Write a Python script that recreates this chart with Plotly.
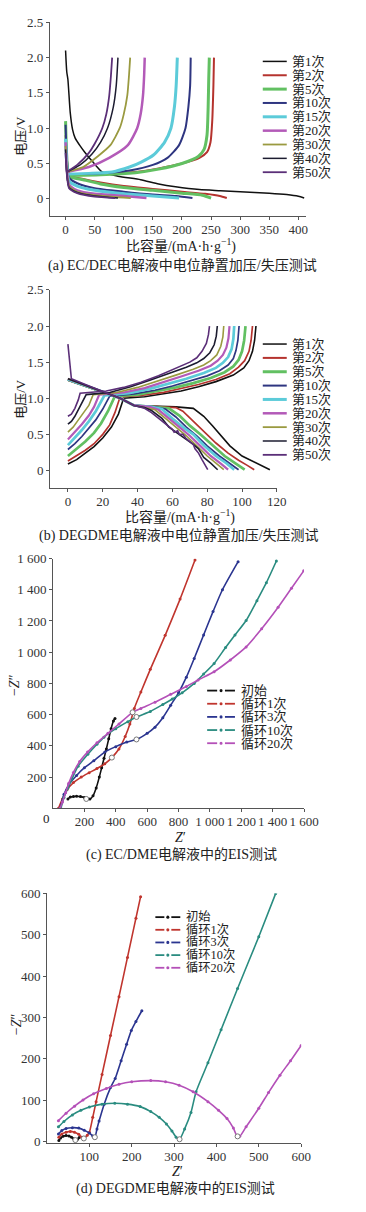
import plotly.graph_objects as go

W, H = 366, 1212

# ---------------- Panel (a) data: EC/DEC charge/discharge ----------------
A_NAMES = ["第1次", "第2次", "第5次", "第10次", "第15次", "第20次", "第30次", "第40次", "第50次"]
A_DIS_CAP = [
    [0, 2, 4, 8, 12, 16.5, 25, 33, 47, 63, 90, 129, 160, 189, 230, 266, 300, 350, 380, 400, 410],
    [0, 3, 8, 30, 60, 100, 150, 200, 240, 265, 277],
    [0, 2, 6, 30, 60, 100, 150, 200, 235, 250],
    [0, 2, 6, 20, 50, 100, 150, 190, 218],
    [0, 2, 6, 20, 50, 100, 150, 195],
    [0, 2, 6, 20, 50, 100, 139],
    [0, 2, 6, 20, 50, 112],
    [0, 2, 6, 20, 50, 90],
    [0, 2, 6, 20, 50, 85],
]
A_DIS_V = [
    [2.1, 1.8, 1.69, 1.22, 0.98, 0.86, 0.75, 0.66, 0.52, 0.38, 0.32, 0.27, 0.21, 0.17, 0.13, 0.115, 0.1, 0.08, 0.06, 0.035, 0.01],
    [0.9, 0.5, 0.33, 0.28, 0.23, 0.18, 0.14, 0.1, 0.07, 0.04, 0.01],
    [1.1, 0.6, 0.32, 0.27, 0.21, 0.16, 0.12, 0.08, 0.05, 0.01],
    [1.05, 0.6, 0.3, 0.22, 0.15, 0.1, 0.06, 0.04, 0.01],
    [0.85, 0.5, 0.25, 0.18, 0.12, 0.07, 0.04, 0.01],
    [0.8, 0.45, 0.2, 0.12, 0.07, 0.04, 0.01],
    [0.75, 0.4, 0.18, 0.1, 0.05, 0.01],
    [0.7, 0.38, 0.16, 0.09, 0.04, 0.01],
    [0.65, 0.36, 0.15, 0.08, 0.03, 0.01],
]
A_CH_CAP = [
    [],
    [2, 60, 120, 160, 200, 230, 243, 249, 252, 254, 255],
    [2, 60, 120, 160, 200, 228, 238, 243, 245, 246, 247],
    [2, 60, 110, 150, 175, 195, 206, 211, 214, 215],
    [2, 40, 80, 110, 130, 151, 170, 181, 187, 190, 192],
    [2, 40, 75, 107, 123, 129, 133, 135, 136],
    [2, 30, 55, 77, 93, 100, 106, 109, 111],
    [2, 25, 45, 60, 72, 82, 87, 90],
    [2, 20, 40, 50, 63, 70, 75, 78, 80],
]
A_CH_V = [
    [],
    [0.34, 0.35, 0.38, 0.43, 0.5, 0.58, 0.66, 0.8, 1.1, 1.6, 2.0],
    [0.33, 0.34, 0.37, 0.42, 0.5, 0.6, 0.7, 0.9, 1.3, 1.7, 2.0],
    [0.35, 0.36, 0.4, 0.48, 0.58, 0.76, 1.0, 1.3, 1.6, 2.0],
    [0.35, 0.36, 0.38, 0.45, 0.52, 0.62, 0.8, 1.0, 1.3, 1.6, 2.0],
    [0.38, 0.45, 0.58, 0.76, 1.0, 1.2, 1.46, 1.75, 2.0],
    [0.38, 0.45, 0.6, 0.76, 1.0, 1.2, 1.46, 1.75, 2.0],
    [0.38, 0.48, 0.63, 0.8, 1.0, 1.3, 1.6, 2.0],
    [0.38, 0.48, 0.65, 0.78, 1.0, 1.2, 1.46, 1.75, 2.0],
]

# ---------------- Panel (b) data: DEGDME charge/discharge ----------------
B_DIS_CAP = [
    [0, 10, 20, 30, 38, 50, 62, 72, 78, 83, 88, 93, 100, 106, 112, 116],
    [0, 10, 20, 30, 38, 50, 62, 66, 72, 78, 85, 92, 98, 103, 107],
    [0, 10, 20, 30, 38, 50, 58, 64, 70, 76, 83, 90, 96, 101.5],
    [0, 10, 20, 30, 38, 50, 56, 62, 68, 74, 80, 87, 93, 98],
    [0, 10, 20, 30, 38, 48, 54, 60, 66, 72, 78, 85, 91, 95.5],
    [0, 10, 20, 30, 38, 47, 52, 58, 64, 70, 76, 82, 88, 92],
    [0, 10, 20, 30, 38, 45, 50, 56, 62, 68, 74, 80, 85, 89.5],
    [0, 10, 20, 30, 38, 44, 48, 54, 58, 61, 63, 66, 72, 75, 78, 82, 86],
    [0, 1, 2, 10, 20, 30, 38, 44, 48, 52, 55, 57, 58, 60, 61, 63, 64, 66, 68, 70, 72, 73, 75, 77, 80.3],
]
B_DIS_V = [
    [1.25, 1.17, 1.09, 1.0, 0.9, 0.89, 0.88, 0.86, 0.75, 0.62, 0.48, 0.34, 0.2, 0.13, 0.06, 0.01],
    [1.25, 1.17, 1.09, 1.0, 0.9, 0.88, 0.87, 0.82, 0.68, 0.54, 0.38, 0.24, 0.14, 0.07, 0.01],
    [1.26, 1.17, 1.09, 1.0, 0.9, 0.88, 0.86, 0.76, 0.62, 0.5, 0.35, 0.2, 0.1, 0.01],
    [1.26, 1.18, 1.09, 1.0, 0.9, 0.88, 0.85, 0.74, 0.6, 0.48, 0.34, 0.2, 0.1, 0.01],
    [1.26, 1.18, 1.09, 1.0, 0.9, 0.88, 0.85, 0.72, 0.6, 0.5, 0.35, 0.2, 0.1, 0.01],
    [1.27, 1.18, 1.1, 1.0, 0.9, 0.88, 0.84, 0.72, 0.6, 0.48, 0.34, 0.2, 0.09, 0.01],
    [1.27, 1.18, 1.1, 1.0, 0.9, 0.87, 0.84, 0.72, 0.6, 0.48, 0.34, 0.2, 0.1, 0.01],
    [1.27, 1.18, 1.1, 1.0, 0.9, 0.87, 0.83, 0.72, 0.6, 0.55, 0.52, 0.46, 0.36, 0.3, 0.18, 0.1, 0.01],
    [1.75, 1.45, 1.27, 1.19, 1.1, 1.0, 0.9, 0.86, 0.8, 0.72, 0.66, 0.62, 0.6, 0.57, 0.53, 0.55, 0.5, 0.5, 0.44, 0.4, 0.36, 0.3, 0.24, 0.15, 0.01],
]
B_CH_CAP = [
    [0, 5, 10, 15, 20, 25, 29, 32, 44, 55, 65, 75, 85, 95, 101, 104, 106, 107.2, 108],
    [0, 5, 10, 15, 20, 24, 27, 30, 42, 55, 65, 75, 85, 93, 98, 101.5, 104, 105.2, 106],
    [0, 5, 10, 15, 19, 23, 27, 40, 52, 62, 72, 82, 90, 95, 98, 100, 101.2, 102],
    [0, 4, 8, 12, 16, 20, 24, 38, 50, 60, 70, 80, 87, 92, 95, 96.5, 97.6, 98.3],
    [0, 4, 8, 12, 16, 21, 35, 47, 58, 68, 78, 85, 89, 92, 94, 95, 95.5],
    [0, 4, 8, 12, 15, 18, 32, 44, 55, 65, 75, 82, 86, 89, 91, 92.2, 92.8],
    [0, 3, 6, 9, 12, 14.5, 28, 40, 51, 62, 72, 78, 82, 85.5, 87.8, 89, 89.5],
    [0, 2, 4, 6, 8, 10.5, 24, 36, 47, 58, 68, 74, 78, 81.5, 84, 85.2, 85.8],
    [0, 2, 4, 6, 7, 12, 22, 32, 42, 52, 62, 70, 74, 77, 79.5, 80.7, 81.3],
]
B_CH_V = [
    [0.09, 0.15, 0.24, 0.33, 0.45, 0.6, 0.78, 1.0, 1.02, 1.06, 1.1, 1.16, 1.23, 1.32, 1.42, 1.52, 1.65, 1.8, 2.0],
    [0.13, 0.2, 0.28, 0.37, 0.5, 0.63, 0.8, 1.02, 1.04, 1.08, 1.13, 1.19, 1.26, 1.34, 1.43, 1.52, 1.65, 1.8, 2.0],
    [0.2, 0.3, 0.4, 0.52, 0.65, 0.82, 1.03, 1.05, 1.1, 1.15, 1.21, 1.28, 1.36, 1.44, 1.53, 1.65, 1.8, 2.0],
    [0.29, 0.37, 0.47, 0.58, 0.7, 0.85, 1.03, 1.06, 1.11, 1.17, 1.24, 1.31, 1.38, 1.46, 1.55, 1.66, 1.8, 2.0],
    [0.35, 0.45, 0.56, 0.68, 0.82, 1.04, 1.07, 1.13, 1.2, 1.27, 1.35, 1.42, 1.49, 1.57, 1.68, 1.82, 2.0],
    [0.43, 0.53, 0.64, 0.76, 0.88, 1.05, 1.08, 1.14, 1.22, 1.3, 1.38, 1.45, 1.52, 1.6, 1.7, 1.83, 2.0],
    [0.53, 0.6, 0.7, 0.8, 0.9, 1.05, 1.08, 1.15, 1.23, 1.32, 1.4, 1.46, 1.52, 1.6, 1.72, 1.85, 2.0],
    [0.64, 0.68, 0.75, 0.84, 0.93, 1.05, 1.08, 1.16, 1.25, 1.34, 1.43, 1.49, 1.55, 1.63, 1.74, 1.86, 2.0],
    [0.75, 0.78, 0.86, 0.98, 1.07, 1.08, 1.1, 1.15, 1.22, 1.31, 1.41, 1.5, 1.56, 1.65, 1.76, 1.88, 2.0],
]
CYC_COLORS = ["#111111", "#b5332e", "#62c062", "#2e3580", "#5ccbd9", "#b35ab8", "#9a9a40", "#1c1c30", "#5b2f78"]
CYC_WIDTHS = [1.5, 2, 3, 2, 3, 2.5, 1.8, 1.5, 1.8]

# ---------------- Panel (c) data: EC/DME EIS ----------------
EIS_NAMES = ["初始", "循环1次", "循环3次", "循环10次", "循环20次"]
EIS_COLORS = ["#111111", "#c0352e", "#2b3590", "#2a8c80", "#b450b8"]
C_ZRE = [
    [95, 110, 130, 150, 175, 200, 215, 235, 255, 275, 295, 310, 325, 340, 355, 370, 385, 395],
    [35, 60, 90, 130, 180, 230, 280, 330, 375, 420, 460, 490, 518, 560, 620, 715, 810, 905],
    [45, 70, 100, 150, 200, 260, 330, 400, 470, 532, 600, 650, 700, 750, 800, 850, 900, 960, 1020, 1080, 1180],
    [50, 70, 95, 120, 160, 222, 280, 324, 400, 477, 532, 620, 700, 760, 823, 900, 960, 1027, 1100, 1160, 1231, 1300, 1360, 1424],
    [45, 60, 80, 100, 130, 170, 220, 280, 350, 420, 507, 560, 650, 750, 850, 925, 1027, 1130, 1231, 1330, 1435, 1520, 1598],
]
C_ZIM = [
    [60, 72, 76, 77, 75, 70, 62, 60, 80, 130, 200, 260, 320, 380, 445, 510, 560, 575],
    [0, 60, 120, 165, 200, 228, 255, 285, 325, 380, 460, 540, 640, 745, 890, 1108, 1340, 1590],
    [0, 90, 150, 210, 260, 305, 360, 395, 425, 441, 480, 520, 580, 660, 740, 840, 960, 1110, 1260, 1400, 1580],
    [0, 70, 130, 187, 270, 346, 410, 455, 510, 555, 585, 620, 665, 700, 740, 800, 860, 928, 1030, 1110, 1203, 1330, 1445, 1584],
    [0, 40, 100, 160, 230, 300, 360, 420, 480, 540, 615, 640, 680, 730, 780, 822, 875, 950, 1034, 1150, 1288, 1410, 1521],
]
C_OPEN_ZRE = [212, 375, 532, 532, 507]
C_OPEN_ZIM = [60, 325, 441, 585, 615]

# ---------------- Panel (d) data: DEGDME EIS ----------------
D_ZRE = [
    [28, 32, 38, 45, 52, 58, 63, 67, 72, 76],
    [28, 35, 45, 55, 65, 75, 82, 88, 95, 100, 108, 116, 130, 150, 170, 190, 210, 221],
    [27, 35, 45, 60, 75, 88, 100, 108, 113, 118, 123, 135, 150, 161, 175, 188, 199, 210, 224],
    [27, 40, 60, 80, 100, 130, 160, 190, 220, 245, 265, 282, 295, 305, 313, 325, 340, 352, 380, 411, 450, 500, 540],
    [27, 45, 65, 85, 110, 140, 170, 200, 245, 280, 312, 345, 380, 405, 425, 440, 448, 455, 470, 500, 523, 550, 575, 600],
]
D_ZIM = [
    [2, 8, 12, 14, 13, 10, 6, 3, 5, 9],
    [10, 18, 22, 24, 22, 17, 10, 6, 15, 22, 58, 96, 162, 256, 350, 445, 540, 592],
    [18, 26, 31, 33, 32, 27, 20, 13, 10, 30, 49, 90, 130, 152, 195, 235, 268, 290, 316],
    [35, 48, 64, 75, 83, 90, 92, 90, 84, 72, 58, 42, 25, 10, 5, 30, 70, 120, 190, 270, 370, 495, 600],
    [50, 68, 85, 100, 115, 128, 138, 144, 147, 144, 136, 120, 96, 75, 55, 32, 14, 12, 35, 80, 118, 160, 195, 232],
]
D_OPEN_ZRE = [67, 87, 113, 313, 450]
D_OPEN_ZIM = [3, 7, 10, 5, 12]

# ---------------- figure ----------------
fig = go.Figure()

for i in range(9):
    for caps, vs in ((A_DIS_CAP[i], A_DIS_V[i]), (A_CH_CAP[i], A_CH_V[i])):
        if caps:
            fig.add_trace(go.Scatter(x=caps, y=vs, mode="lines", xaxis="x", yaxis="y",
                                     line=dict(color=CYC_COLORS[i], width=CYC_WIDTHS[i], shape="spline", smoothing=0.6),
                                     showlegend=False, hoverinfo="skip"))
for i in range(9):
    for caps, vs in ((B_DIS_CAP[i], B_DIS_V[i]), (B_CH_CAP[i], B_CH_V[i])):
        fig.add_trace(go.Scatter(x=caps, y=vs, mode="lines", xaxis="x2", yaxis="y2",
                                 line=dict(color=CYC_COLORS[i], width=max(1.6, CYC_WIDTHS[i] - 0.3)),
                                 showlegend=False, hoverinfo="skip"))
for i in range(5):
    fig.add_trace(go.Scatter(x=C_ZRE[i], y=C_ZIM[i], mode="lines+markers", xaxis="x3", yaxis="y3",
                             line=dict(color=EIS_COLORS[i], width=1.6, shape="spline", smoothing=0.6),
                             marker=dict(size=3, color=EIS_COLORS[i]), showlegend=False, hoverinfo="skip"))
    fig.add_trace(go.Scatter(x=D_ZRE[i], y=D_ZIM[i], mode="lines+markers", xaxis="x4", yaxis="y4",
                             line=dict(color=EIS_COLORS[i], width=1.6, shape="spline", smoothing=0.6),
                             marker=dict(size=3, color=EIS_COLORS[i]), showlegend=False, hoverinfo="skip"))
fig.add_trace(go.Scatter(x=C_OPEN_ZRE, y=C_OPEN_ZIM, mode="markers", xaxis="x3", yaxis="y3",
                         marker=dict(size=5, color="white", line=dict(color="#777777", width=1)),
                         showlegend=False, hoverinfo="skip"))
fig.add_trace(go.Scatter(x=D_OPEN_ZRE, y=D_OPEN_ZIM, mode="markers", xaxis="x4", yaxis="y4",
                         marker=dict(size=5, color="white", line=dict(color="#777777", width=1)),
                         showlegend=False, hoverinfo="skip"))


def dx(a, b):
    return [a / W, b / W]


def dy(top, bottom):
    return [1 - bottom / H, 1 - top / H]


TICKFONT = dict(family="Liberation Serif, Times New Roman, serif", size=13, color="#333333")
AX = dict(showline=True, linecolor="#555555", linewidth=1, ticks="outside", ticklen=3, tickcolor="#555555",
          showgrid=False, zeroline=False, tickfont=TICKFONT, fixedrange=True)
XAX = dict(AX, ticklabelstandoff=-2)


def thou(v):
    s = str(v)
    return s if v < 1000 else s[0] + " " + s[1:]


C_TICKS = [200, 400, 600, 800, 1000, 1200, 1400, 1600]

fig.update_layout(
    width=W, height=H, margin=dict(l=0, r=0, t=0, b=0),
    paper_bgcolor="white", plot_bgcolor="white", showlegend=False,
    xaxis=dict(XAX, domain=dx(52, 319), range=[-27, 413], tickvals=[0, 50, 100, 150, 200, 250, 300, 350, 400], anchor="y"),
    yaxis=dict(AX, domain=dy(15.5, 211.7), range=[-0.25, 2.5], tickvals=[0, 0.5, 1, 1.5, 2, 2.5],
               ticktext=["0", "0.5", "1.0", "1.5", "2.0", "2.5"], anchor="x"),
    xaxis2=dict(XAX, domain=dx(52.3, 288.7), range=[-10.2, 120], tickvals=[0, 20, 40, 60, 80, 100, 120], anchor="y2"),
    yaxis2=dict(AX, domain=dy(286, 486.7), range=[-0.25, 2.5], tickvals=[0, 0.5, 1, 1.5, 2, 2.5],
                ticktext=["0", "0.5", "1.0", "1.5", "2.0", "2.5"], anchor="x2"),
    xaxis3=dict(XAX, domain=dx(55.3, 317), range=[0, 1600], tickvals=C_TICKS, ticktext=[thou(v) for v in C_TICKS], anchor="y3"),
    yaxis3=dict(AX, domain=dy(557.5, 810), range=[0, 1600], tickvals=C_TICKS, ticktext=[thou(v) for v in C_TICKS], anchor="x3"),
    xaxis4=dict(XAX, domain=dx(49, 314), range=[0, 600], tickvals=[100, 200, 300, 400, 500, 600], anchor="y4"),
    yaxis4=dict(AX, domain=dy(896, 1148.3), range=[-4, 600], tickvals=[0, 100, 200, 300, 400, 500, 600], anchor="x4"),
)

TXT = "Liberation Serif, Noto Sans CJK SC, serif"
shapes = []
annots = []


def ann(px, py, text, size=14, angle=0, xanchor="center", color="#222222"):
    annots.append(dict(x=px / W, y=1 - py / H, xref="paper", yref="paper", text=text, showarrow=False,
                       textangle=angle, xanchor=xanchor, yanchor="middle",
                       font=dict(family=TXT, size=size, color=color)))


# titles and captions
ann(22, 130, "电压/V", 13, -90)
ann(189, 241, "比容量/(mA·h·g<sup>−1</sup>)", 14)
ann(190, 262, "(a) EC/DEC电解液中电位静置加压/失压测试", 14)
ann(22, 396, "电压/V", 13, -90)
ann(188, 515, "比容量/(mA·h·g<sup>−1</sup>)", 14)
ann(187, 535, "(b) DEGDME电解液中电位静置加压/失压测试", 14)
ann(15, 685, "−<i>Z</i>″", 14, -90)
ann(48, 820, "0", 13)
ann(188, 839, "<i>Z</i>′", 14)
ann(189, 857, "(c) EC/DME电解液中的EIS测试", 14)
ann(18, 1028, "−<i>Z</i>″", 14, -90)
ann(185, 1177, "<i>Z</i>′", 14)
ann(183, 1195, "(d) DEGDME电解液中的EIS测试", 14)

# legends of (a) and (b): plain line symbols
for top in (55, 340.7):
    for i, name in enumerate(A_NAMES):
        yy = top + 14 * i
        shapes.append(dict(type="line", xref="paper", yref="paper", x0=274 / W, x1=299 / W,
                           y0=1 - yy / H, y1=1 - yy / H, line=dict(color=CYC_COLORS[i], width=CYC_WIDTHS[i])))
        ann(302, yy, name, 13, 0, "left")

# legends of (c) and (d): dash-dot-dash symbols
for (x0, x1, tx, top, step, fs) in ((216, 245, 249, 691, 13.3, 13), (162, 188, 192, 920, 12.8, 12.3)):
    for i, name in enumerate(EIS_NAMES):
        yy = top + step * i
        seg = (x1 - x0) * 0.36
        for a, b in ((x0, x0 + seg), (x1 - seg, x1)):
            shapes.append(dict(type="line", xref="paper", yref="paper", x0=a / W, x1=b / W,
                               y0=1 - yy / H, y1=1 - yy / H, line=dict(color=EIS_COLORS[i], width=1.8)))
        cx = (x0 + x1) / 2
        shapes.append(dict(type="circle", xref="paper", yref="paper", x0=(cx - 1.6) / W, x1=(cx + 1.6) / W,
                           y0=1 - (yy + 1.6) / H, y1=1 - (yy - 1.6) / H,
                           fillcolor=EIS_COLORS[i], line=dict(color=EIS_COLORS[i], width=0)))
        ann(tx, yy, name, fs, 0, "left")

fig.update_layout(shapes=shapes, annotations=annots)
fig.write_html("out.html", config={"displayModeBar": False},
               post_script="document.body.style.margin='0';document.body.style.overflow='hidden';")
